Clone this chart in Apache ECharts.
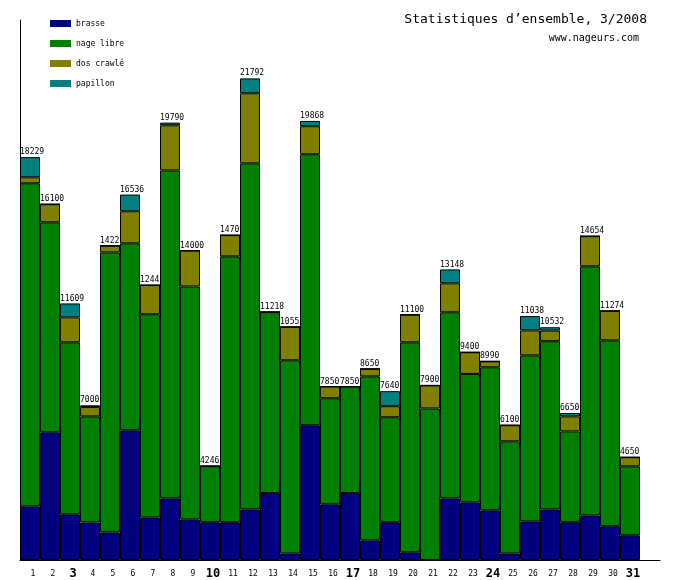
<!DOCTYPE html>
<html>
<head>
<meta charset="utf-8">
<script src="https://cdn.jsdelivr.net/npm/echarts@6/dist/echarts.min.js"></script>
<style>html,body{margin:0;padding:0;background:#fff}#c{width:680px;height:580px}</style>
</head>
<body>
<div id="c"></div>
<script>
var days = ['1','2','3','4','5','6','7','8','9','10','11','12','13','14','15','16','17','18','19','20','21','22','23','24','25','26','27','28','29','30','31'];
var boldDays = ['3','10','17','24','31'];
var brasse    = [2430,5780,2070,1700,1250,5870,1930,2790,1840,1710,1710,2290,3030,300,6100,2520,3030,890,1710,350,0,2790,2610,2250,300,1750,2290,1710,2020,1530,1120];
var nageLibre = [14616,9500,7780,4800,12670,8460,9190,14840,10540,2536,12030,15660,8188,8740,12260,4800,4820,7420,4750,9500,6860,8420,5810,6470,5070,7510,7610,4110,11270,8410,3120];
var dosCrawle = [271,820,1130,420,300,1450,1320,2040,1620,0,960,3170,0,1510,1270,530,0,340,500,1250,1040,1310,980,270,730,1130,480,680,1364,1334,410];
var papillon  = [912,0,629,80,0,756,0,120,0,0,0,672,0,0,238,0,0,0,680,0,0,628,0,0,0,648,152,150,0,0,0];
var totalLabels = ['18229','16100','11609','7000','1422','16536','1244','19790','14000','4246','1470','21792','11218','1055','19868','7850','7850','8650','7640','11100','7900','13148','9400','8990','6100','11038','10532','6650','14654','11274','4650'];
var seriesNames = ['brasse','nage libre','dos crawlé','papillon'];
var seriesColors = ['#000080','#008000','#808000','#008080'];

var chart = echarts.init(document.getElementById('c'), null, {renderer:'canvas'});
var cats = days.concat(['']);
var dataSets = [brasse, nageLibre, dosCrawle, papillon];
var series = dataSets.map(function(d, i){
  return {
    name: seriesNames[i], type:'bar', stack:'s', barWidth:20, barCategoryGap:0,
    data: d, itemStyle:{color: seriesColors[i], borderColor:'#000', borderWidth:1},
    emphasis:{disabled:true}, animation:false
  };
});
series.push({
  name:'total', type:'bar', stack:'s', barWidth:20,
  data: days.map(function(){return 0;}),
  itemStyle:{color:'rgba(0,0,0,0)', borderWidth:0},
  label:{show:true, position:[0,-1], align:'left', verticalAlign:'bottom',
    fontFamily:'DejaVu Sans Mono', fontSize:8, color:'#000',
    formatter:function(p){return totalLabels[p.dataIndex];}},
  z:10, animation:false
});
var mono = 'DejaVu Sans Mono';
chart.setOption({
  animation:false,
  backgroundColor:'#fff',
  title:[
    {text:'Statistiques d’ensemble, 3/2008', right:28, top:8,
     textStyle:{fontFamily:mono, fontSize:13, fontWeight:'normal', color:'#000'}},
    {text:'www.nageurs.com', right:36, top:28,
     textStyle:{fontFamily:mono, fontSize:10, fontWeight:'normal', color:'#000'}}
  ],
  legend:{data:seriesNames, orient:'vertical', left:50, top:19.5, padding:0, itemWidth:21, itemHeight:7, itemGap:12,
    icon:'rect', itemStyle:{borderWidth:0}, selectedMode:false,
    textStyle:{fontFamily:mono, fontSize:8, lineHeight:8, color:'#000'}},
  grid:{left:20, right:20, top:20, bottom:20, containLabel:false},
  xAxis:{type:'category', data:cats, boundaryGap:true,
    axisLine:{lineStyle:{color:'#000', width:1}}, axisTick:{show:false},
    axisLabel:{interval:0, margin:8, padding:[0,0,0,6], color:'#000',
      formatter:function(v){ if(v==='') return ''; return boldDays.indexOf(v)>=0 ? '{b|'+v+'}' : '{n|'+v+'}'; },
      rich:{n:{fontFamily:mono, fontSize:8, lineHeight:12, color:'#000'},
            b:{fontFamily:mono, fontSize:12, fontWeight:'bold', lineHeight:12, color:'#000'}}}
  },
  yAxis:{type:'value', min:0, max:24435, axisLine:{show:true, lineStyle:{color:'#000', width:1}},
    axisTick:{show:false}, axisLabel:{show:false}, splitLine:{show:false}},
  series: series
});
</script>
</body>
</html>
